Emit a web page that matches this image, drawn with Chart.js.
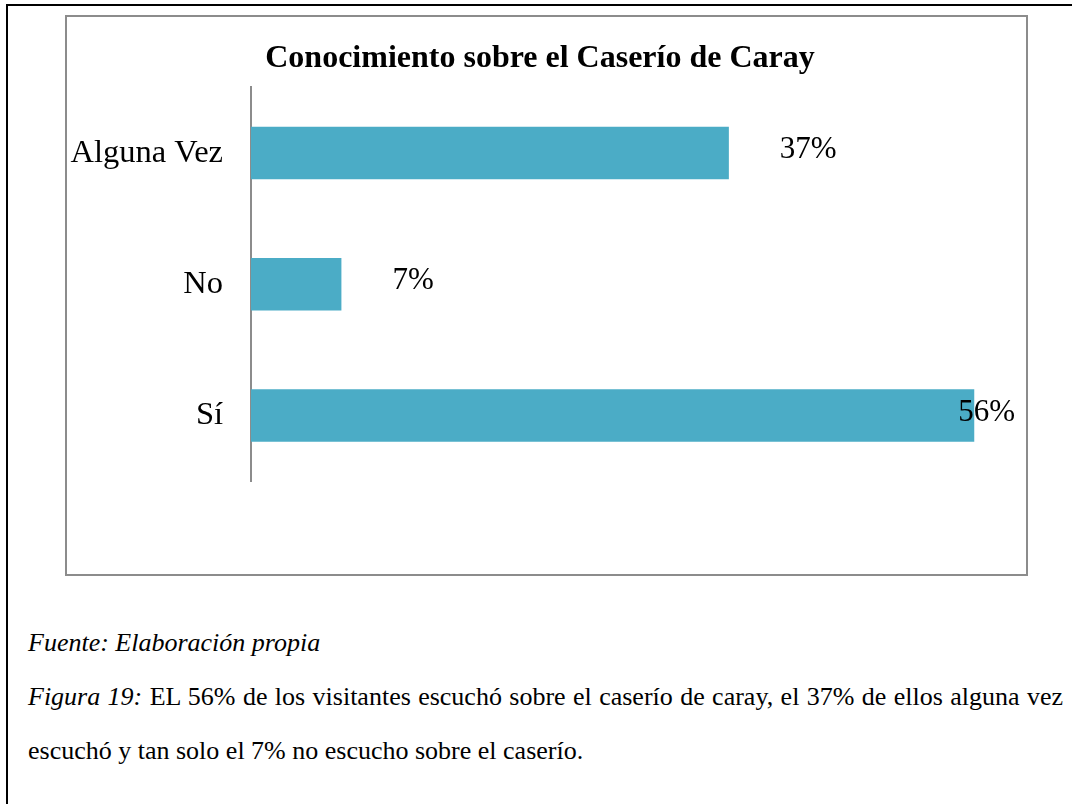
<!DOCTYPE html>
<html lang="es">
<head>
<meta charset="utf-8">
<title>Conocimiento sobre el Caserío de Caray</title>
<script src="https://cdn.jsdelivr.net/npm/chart.js@4.4.1/dist/chart.umd.min.js"></script>
<style>
    html, body {
        margin: 0;
        padding: 0;
        width: 1072px;
        height: 804px;
        overflow: hidden;
        background: #fff;
        font-family: 'Liberation Serif', 'Times New Roman', serif;
        color: #000;
    }
    .frame {
        position: absolute;
        left: 6px;
        top: 4px;
        width: 1080px;
        height: 820px;
        border-left: 2px solid #000;
        border-top: 2px solid #000;
    }
    .chart-box {
        position: absolute;
        left: 65px;
        top: 15px;
        width: 959px;
        height: 557px;
        border: 2px solid #8c8c8c;
    }
    .caption {
        position: absolute;
        left: 28px;
        top: 616px;
        width: 1035px;
        font-size: 26px;
        line-height: 54px;
    }
    .caption p {
        margin: 0;
        text-align: justify;
    }
</style>
</head>
<body>
<div class="frame"></div>
<div class="chart-box">
    <canvas id="cerayChart" width="959" height="557"></canvas>
</div>
<div class="caption">
    <p><i>Fuente: Elaboración propia</i></p>
    <p><i>Figura 19:</i> EL 56% de los visitantes escuchó sobre el caserío de caray, el 37% de ellos alguna vez escuchó y tan solo el 7% no escucho sobre el caserío.</p>
</div>
<script>
    // Datos del gráfico
    const categories = ['Alguna Vez', 'No', 'Sí'];
    const percentages = [37, 7, 56];
    const valueLabels = ['37%', '7%', '56%'];

    // Etiquetas de valor al final de cada barra (se mantienen dentro del área)
    const barLabels = {
        id: 'barLabels',
        afterDatasetsDraw(chart) {
            const ctx = chart.ctx;
            const area = chart.chartArea;
            const meta = chart.getDatasetMeta(0);
            ctx.save();
            ctx.font = '31px "Liberation Serif", "Times New Roman", serif';
            ctx.fillStyle = '#000';
            ctx.textBaseline = 'middle';
            ctx.textAlign = 'left';
            meta.data.forEach((bar, i) => {
                const text = valueLabels[i];
                const w = ctx.measureText(text).width;
                let x = bar.x + 51;
                if (x + w > area.right + 2) x = area.right + 2 - w;
                ctx.fillText(text, x, bar.y - 3);
            });
            ctx.restore();
        }
    };

    document.addEventListener('DOMContentLoaded', () => {
        const ctx = document.getElementById('cerayChart').getContext('2d');

        new Chart(ctx, {
            type: 'bar',
            data: {
                labels: categories,
                datasets: [{
                    data: percentages,
                    backgroundColor: '#4bacc6',
                    borderWidth: 0,
                    categoryPercentage: 1,
                    barPercentage: 0.4
                }]
            },
            options: {
                indexAxis: 'y',
                responsive: false,
                animation: false,
                layout: {
                    padding: { left: 0, right: 13, top: 0, bottom: 93 }
                },
                plugins: {
                    legend: { display: false },
                    tooltip: { enabled: false },
                    title: {
                        display: true,
                        text: 'Conocimiento sobre el Caserío de Caray',
                        color: '#000',
                        font: { family: '"Liberation Serif", "Times New Roman", serif', size: 32, weight: 'bold', lineHeight: 1.2 },
                        padding: { top: 23, bottom: 9 }
                    }
                },
                scales: {
                    x: {
                        display: false,
                        min: 0,
                        max: 59
                    },
                    y: {
                        afterFit: (scale) => { scale.width = 184; },
                        grid: { display: true, color: 'transparent', drawTicks: false },
                        border: { display: true, color: '#8c8c8c', width: 2 },
                        ticks: {
                            color: '#000',
                            padding: 28,
                            font: { family: '"Liberation Serif", "Times New Roman", serif', size: 32.5 }
                        }
                    }
                }
            },
            plugins: [barLabels]
        });
    });
</script>
</body>
</html>
